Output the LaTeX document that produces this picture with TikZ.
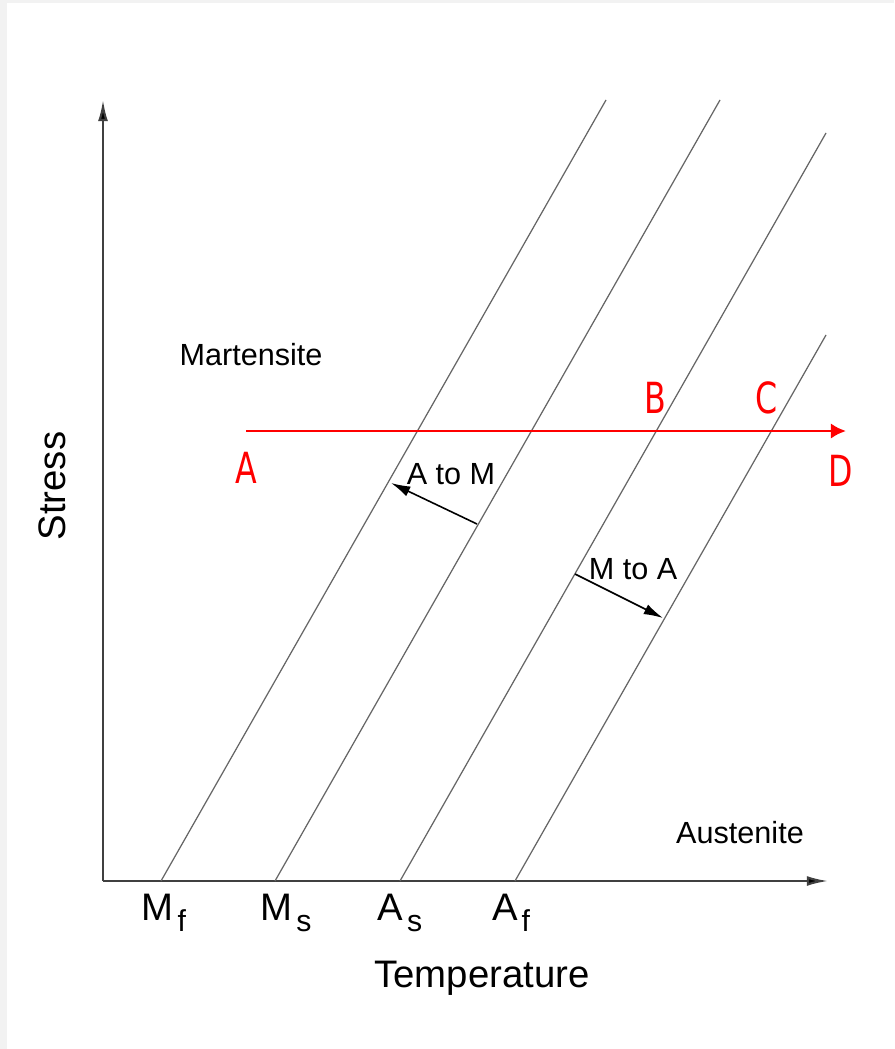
\documentclass[tikz,border=0pt]{standalone}
\usepackage{fontspec}
\setmainfont{Liberation Sans}
\newfontfamily\condfont{DejaVu Sans Condensed}
\usetikzlibrary{arrows.meta}

\newcommand{\lowsub}[1]{\hspace{0.1em}\raisebox{-0.55ex}{\fontsize{8.6}{9}\selectfont #1}}

\begin{document}
\begin{tikzpicture}[x=0.01cm, y=-0.01cm, >={Latex[length=6pt,width=2.8pt]},
    axis/.style={draw=black!75, line width=0.6pt, -{Latex[length=6pt,width=2.8pt,fill=black]}},
    phase/.style={draw=black!60, line width=0.35pt},
    loadpath/.style={draw=red, line width=0.85pt, -{Latex[length=4.3pt,width=4.4pt]}},
    trans/.style={draw=black, line width=0.45pt, -{Latex[length=5.5pt,width=3pt]}},
    lbl/.style={font=\fontsize{8.7}{10}\selectfont, inner sep=0pt},
    big/.style={font=\fontsize{10.9}{12}\selectfont, inner sep=0pt},
    letter/.style={font=\condfont\fontsize{12.2}{14}\selectfont, text=red, inner sep=0pt, xscale=0.82}]

    % Background
    \useasboundingbox (0,0) rectangle (894,1049);
    \fill[black!5] (0,0) rectangle (894,1049);
    \fill[white] (7,3) rectangle (894,1049);

    % Axes
    \coordinate (o) at (103,881);
    \coordinate (ytip) at (103,100);
    \coordinate (xtip) at (828,881);
    \draw[axis] (o) -- (ytip);
    \draw[axis] (o) -- (xtip);

    % Transformation lines
    \coordinate (mf) at (161,881);
    \coordinate (ms) at (275,881);
    \coordinate (as) at (400,881);
    \coordinate (af) at (515,881);
    \coordinate (mftop) at (606,100);
    \coordinate (mstop) at (720,100);
    \coordinate (astop) at (826,133);
    \coordinate (aftop) at (826,335);
    \draw[phase] (mf) -- (mftop);
    \draw[phase] (ms) -- (mstop);
    \draw[phase] (as) -- (astop);
    \draw[phase] (af) -- (aftop);

    % Temperature labels
    \node[big, anchor=base] (lmf) at (164,920) {M\lowsub{f}};
    \node[big, anchor=base] (lms) at (286,920) {M\lowsub{s}};
    \node[big, anchor=base] (las) at (400,920) {A\lowsub{s}};
    \node[big, anchor=base] (laf) at (511,920) {A\lowsub{f}};

    \node[big, anchor=base] (temp) at (482,987) {Temperature};
    \node[big, rotate=90] (stress) at (52,486) {Stress};

    % Phases
    \node[lbl] (mart) at (251,355) {Martensite};
    \node[lbl] (aust) at (740,833) {Austenite};

    % Loading path
    \coordinate (start) at (246,431);
    \coordinate (stop) at (846,431);
    \draw[loadpath] (start) -- (stop);
    \node[letter] (pa) at (246,468) {A};
    \node[letter] (pb) at (655,398) {B};
    \node[letter] (pc) at (767,398) {C};
    \node[letter] (pd) at (841,471) {D};

    % A to M / M to A
    \coordinate (amfrom) at (477,524);
    \coordinate (amto) at (391,483);
    \coordinate (mafrom) at (575,574);
    \coordinate (mato) at (663,618);
    \draw[trans] (amfrom) -- (amto);
    \draw[trans] (mafrom) -- (mato);
    \node[lbl] (am) at (451,474) {A to M};
    \node[lbl] (ma) at (633,569) {M to A};
\end{tikzpicture}
\end{document}
